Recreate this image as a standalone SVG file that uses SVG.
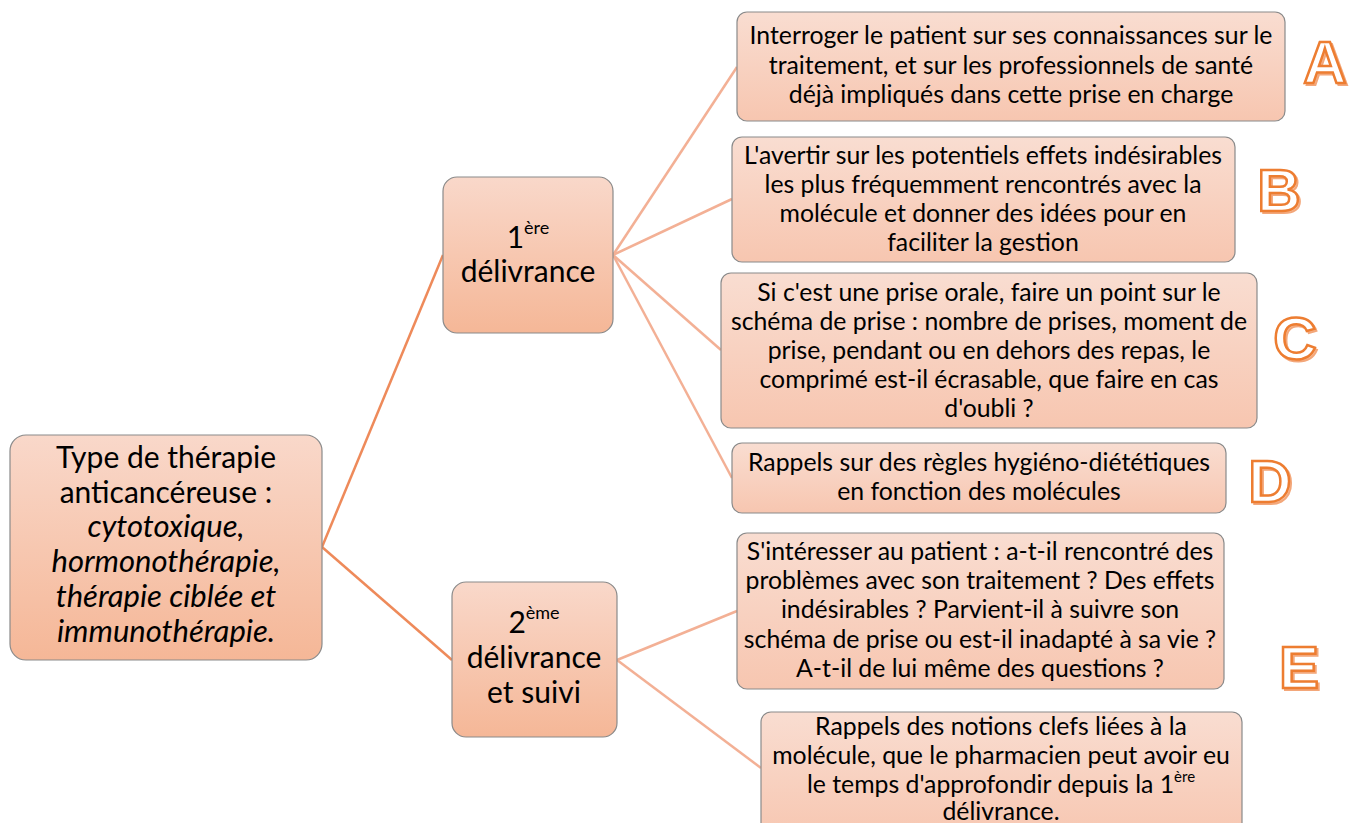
<svg xmlns="http://www.w3.org/2000/svg" width="1355" height="823" viewBox="0 0 1355 823">
<defs>
<linearGradient id="g" x1="0" y1="0" x2="0" y2="1">
<stop offset="0" stop-color="#f9d8ca"/>
<stop offset="1" stop-color="#f5b797"/>
</linearGradient>
<linearGradient id="g2" x1="0" y1="0" x2="0" y2="1">
<stop offset="0" stop-color="#f9ddd1"/>
<stop offset="1" stop-color="#f7c6b0"/>
</linearGradient>
</defs>
<style>
.box{fill:url(#g);stroke:#8a8a8a;stroke-width:1.2}
.leaf{fill:url(#g2);stroke:#8a8a8a;stroke-width:1.2}
.t{font-family:Lato,"Liberation Sans",sans-serif;fill:#000;text-anchor:middle}
.s{font-size:24.8px}
.m{font-size:30px}
.r{font-size:30px}
.i{font-style:italic;font-size:31px}
.c1{stroke:#ee8a5a;stroke-width:2.5;fill:none}
.c2{stroke:#f3b095;stroke-width:2.5;fill:none}
.lt{font-family:"Liberation Sans",Arial,sans-serif;font-weight:bold;font-size:60px;text-anchor:middle}
.lf{fill:#fff;stroke:#ed7d31;stroke-width:2.5}
.ls{fill:#f6c3a3;stroke:#f3a77a;stroke-width:2}
</style>
<g id="connectors">
<line class="c1" x1="322" y1="547" x2="443" y2="255"/>
<line class="c1" x1="322" y1="547" x2="452" y2="660"/>
<line class="c2" x1="613" y1="255" x2="737" y2="67"/>
<line class="c2" x1="613" y1="255" x2="732" y2="199"/>
<line class="c2" x1="613" y1="255" x2="721" y2="350"/>
<line class="c2" x1="613" y1="255" x2="732" y2="478"/>
<line class="c2" x1="617" y1="660" x2="737" y2="611"/>
<line class="c2" x1="617" y1="660" x2="761" y2="768"/>
</g>
<g id="root">
<rect class="box" x="10" y="435" width="312" height="225" rx="16"/>
<text class="t r"><tspan x="166" y="468">Type de thérapie</tspan><tspan x="166" y="503">anticancéreuse :</tspan><tspan x="166" y="537" class="i">cytotoxique,</tspan><tspan x="166" y="572" class="i">hormonothérapie,</tspan><tspan x="166" y="607" class="i">thérapie ciblée et</tspan><tspan x="166" y="642" class="i">immunothérapie.</tspan></text>
</g>
<g id="first">
<rect class="box" x="443" y="177" width="170" height="156" rx="14"/>
<text class="t m" x="528" y="248">1<tspan font-size="18" dy="-14">ère</tspan></text>
<text class="t m" x="528" y="282">délivrance</text>
</g>
<g id="second">
<rect class="box" x="452" y="582" width="165" height="155" rx="14"/>
<text class="t m" x="534" y="633">2<tspan font-size="18" dy="-14">ème</tspan></text>
<text class="t m"><tspan x="534" y="668">délivrance</tspan><tspan x="534" y="703">et suivi</tspan></text>
</g>
<g id="nodeA">
<rect class="leaf" x="737" y="12" width="548" height="109" rx="10"/>
<text class="t s"><tspan x="1011" y="44">Interroger le patient sur ses connaissances sur le</tspan><tspan x="1011" y="73.5">traitement, et sur les professionnels de santé</tspan><tspan x="1011" y="103">déjà impliqués dans cette prise en charge</tspan></text>
</g>
<g id="nodeB">
<rect class="leaf" x="732" y="137" width="503" height="125" rx="10"/>
<text class="t s"><tspan x="983" y="164">L'avertir sur les potentiels effets indésirables</tspan><tspan x="983" y="193">les plus fréquemment rencontrés avec la</tspan><tspan x="983" y="222">molécule et donner des idées pour en</tspan><tspan x="983" y="251">faciliter la gestion</tspan></text>
</g>
<g id="nodeC">
<rect class="leaf" x="721" y="273" width="536" height="155" rx="10"/>
<text class="t s"><tspan x="989" y="301">Si c'est une prise orale, faire un point sur le</tspan><tspan x="989" y="330">schéma de prise : nombre de prises, moment de</tspan><tspan x="989" y="359">prise, pendant ou en dehors des repas, le</tspan><tspan x="989" y="388">comprimé est-il écrasable, que faire en cas</tspan><tspan x="989" y="417">d'oubli ?</tspan></text>
</g>
<g id="nodeD">
<rect class="leaf" x="732" y="443" width="494" height="70" rx="10"/>
<text class="t s"><tspan x="979" y="471">Rappels sur des règles hygiéno-diététiques</tspan><tspan x="979" y="500">en fonction des molécules</tspan></text>
</g>
<g id="nodeE1">
<rect class="leaf" x="737" y="533" width="487" height="156" rx="10"/>
<text class="t s"><tspan x="980" y="560">S'intéresser au patient : a-t-il rencontré des</tspan><tspan x="980" y="589">problèmes avec son traitement ? Des effets</tspan><tspan x="980" y="618">indésirables ? Parvient-il à suivre son</tspan><tspan x="980" y="648">schéma de prise ou est-il inadapté à sa vie ?</tspan><tspan x="980" y="677">A-t-il de lui même des questions ?</tspan></text>
</g>
<g id="nodeE2">
<rect class="leaf" x="761" y="712" width="481" height="130" rx="10"/>
<text class="t s"><tspan x="1001" y="735">Rappels des notions clefs liées à la</tspan><tspan x="1001" y="764">molécule, que le pharmacien peut avoir eu</tspan><tspan x="1001" y="793">le temps d'approfondir depuis la 1<tspan font-size="15" dy="-11">ère</tspan></tspan><tspan x="1001" y="820">délivrance.</tspan></text>
</g>
<g id="letters">
<text class="lt ls" x="1327" y="85">A</text><text class="lt lf" x="1325" y="83">A</text>
<text class="lt ls" x="1281" y="213">B</text><text class="lt lf" x="1279" y="211">B</text>
<text class="lt ls" x="1297" y="361">C</text><text class="lt lf" x="1295" y="359">C</text>
<text class="lt ls" x="1272" y="504">D</text><text class="lt lf" x="1270" y="502">D</text>
<text class="lt ls" x="1301" y="690">E</text><text class="lt lf" x="1299" y="688">E</text>
</g>
</svg>
